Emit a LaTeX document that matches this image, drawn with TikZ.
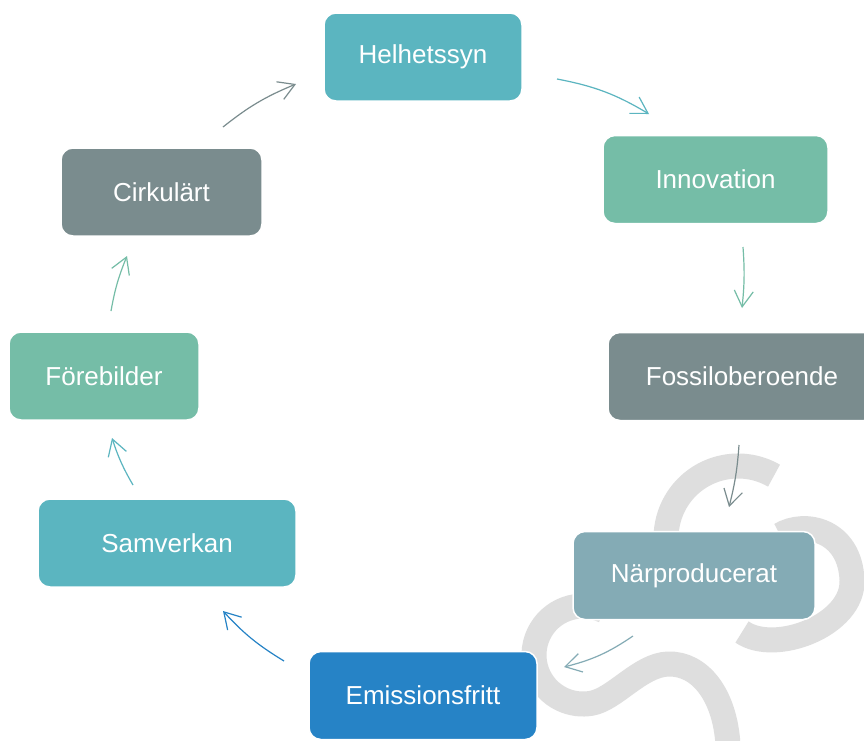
\documentclass[tikz,border=0pt]{standalone}
\usepackage{fontspec}
\setmainfont{Liberation Sans}
\usetikzlibrary{arrows.meta}
\definecolor{cteal}{HTML}{5BB5C0}
\definecolor{cgreen}{HTML}{75BDA7}
\definecolor{cgrey}{HTML}{7A8C8E}
\definecolor{cslate}{HTML}{84ABB5}
\definecolor{cblue}{HTML}{2683C6}
\definecolor{cwm}{HTML}{DEDEDE}
\begin{document}
\begin{tikzpicture}[x=1pt,y=1pt,
  box/.style={draw=white, line width=1.5pt, rounded corners=12pt,
    minimum height=88pt, text=white, inner sep=0pt,
    font=\fontsize{26}{30}\selectfont},
  conn/.style={line width=1.2pt, -{Straight Barb[length=16pt,width=19pt]}, bend left=#1},
  conn/.default=10,
  wm/.style={draw=cwm, line width=25pt}]
\clip (0,0) rectangle (864,-740);
\fill[white] (0,0) rectangle (864,-740);
% watermark
\draw[wm] (738,-538) ++(60:72) arc[start angle=60,end angle=210,radius=72];
\draw[wm] (780,-535) .. controls (805,-520) and (850,-530) .. (852,-580)
  .. controls (854,-625) and (775,-655) .. (742,-632);
\draw[wm] (583,-655) ++(65:49) arc[start angle=65,end angle=280,radius=49]
  .. controls (615,-699) and (640,-665) .. (668,-664)
  .. controls (700,-663) and (725,-695) .. (728,-745);
% boxes
\node[box, fill=cteal,  minimum width=198pt] (helhet) at (423,-57)   {Helhetssyn};
\node[box, fill=cgreen, minimum width=225pt] (innov)  at (715.5,-179.5) {Innovation};
\node[box, fill=cgrey,  minimum width=268pt] (fossil) at (742,-376.5) {Fossiloberoende};
\node[box, fill=cslate, minimum width=242pt] (narp)   at (694,-575.5) {Närproducerat};
\node[box, fill=cblue,  minimum width=228pt] (emis)   at (423,-695.5) {Emissionsfritt};
\node[box, fill=cteal,  minimum width=258pt] (samv)   at (167,-543)  {Samverkan};
\node[box, fill=cgreen, minimum width=190pt] (fore)   at (104,-376)  {Förebilder};
\node[box, fill=cgrey,  minimum width=201pt] (cirk)   at (161.5,-192) {Cirkulärt};
% connector ends
\coordinate (a1s) at (557,-79);  \coordinate (a1e) at (649,-114);
\coordinate (a2s) at (743,-247); \coordinate (a2e) at (742,-308);
\coordinate (a3s) at (739,-445); \coordinate (a3e) at (729,-507);
\coordinate (a4s) at (633,-636); \coordinate (a4e) at (564,-667);
\coordinate (a5s) at (284,-661); \coordinate (a5e) at (223,-611);
\coordinate (a6s) at (133,-485); \coordinate (a6e) at (112,-438);
\coordinate (a7s) at (111,-311); \coordinate (a7e) at (127,-256);
\coordinate (a8s) at (223,-127); \coordinate (a8e) at (296,-84);
% connectors
\draw[conn=10, cteal]  (a1s) to (a1e);
\draw[conn=5,  cgreen] (a2s) to (a2e);
\draw[conn=5,  cgrey]  (a3s) to (a3e);
\draw[conn=10, cslate] (a4s) to (a4e);
\draw[conn=8,  cblue]  (a5s) to (a5e);
\draw[conn=6,  cteal]  (a6s) to (a6e);
\draw[conn=6,  cgreen] (a7s) to (a7e);
\draw[conn=8,  cgrey]  (a8s) to (a8e);
\end{tikzpicture}
\end{document}
